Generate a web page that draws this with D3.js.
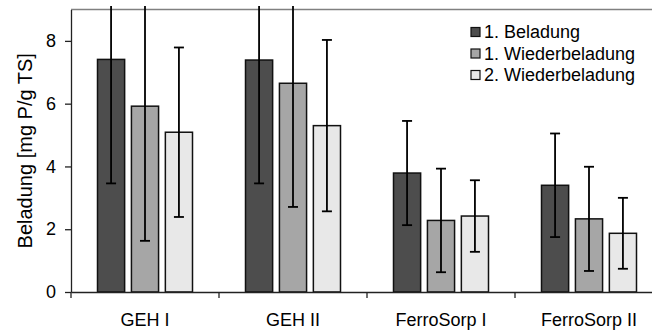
<!DOCTYPE html>
<html lang="de">
<head>
    <meta charset="UTF-8">
    <script src="https://d3js.org/d3.v7.min.js"></script>
    <title>Beladung</title>
    <style>
      body { margin: 0; background: #fff; }
      text { font-family: "Liberation Sans", Arial, sans-serif; }
    </style>
</head>
<body>
    <div id="chart"></div>

    <script>
      // data
      var categories = ["GEH I", "GEH II", "FerroSorp I", "FerroSorp II"];
      var series = ["1. Beladung", "1. Wiederbeladung", "2. Wiederbeladung"];
      var beladung1 = [7.41, 7.39, 3.79, 3.40];
      var wieder1 = [5.92, 6.65, 2.28, 2.33];
      var wieder2 = [5.09, 5.30, 2.42, 1.87];
      var err1 = [3.95, 3.93, 1.66, 1.65];
      var err2 = [4.29, 3.94, 1.65, 1.66];
      var err3 = [2.70, 2.73, 1.14, 1.13];
      var yTicks = [0, 2, 4, 6, 8];
      var colors = ["#4d4d4d", "#a6a6a6", "#e8e8e8"];

      var values = [beladung1, wieder1, wieder2];
      var errors = [err1, err2, err3];

      var W = 652, H = 334;
      var plotLeft = 71, plotTop = 9.5, plotBottom = 292;

      var rows = [];
      categories.forEach(function(c, i) {
          series.forEach(function(s, j) {
              rows.push({cat: c, ser: s, v: values[j][i], e: errors[j][i], col: colors[j]});
          });
      });

      var svg = d3.select("#chart").append("svg")
          .attr("width", W).attr("height", H);

      // categories step ~148px, the last one runs past the right edge
      var x = d3.scaleBand().domain(categories).range([plotLeft, plotLeft + 592]);
      var xs = d3.scaleBand().domain(series).range([26.5, 121.5]).paddingInner(0.2);
      var y = d3.scaleLinear().domain([0, 9]).range([plotBottom, plotTop]);

      svg.append("defs").append("clipPath").attr("id", "clip")
          .append("rect").attr("x", 0).attr("y", 6).attr("width", W).attr("height", H);

      // top frame
      svg.append("line")
          .attr("x1", plotLeft).attr("x2", W).attr("y1", y(9)).attr("y2", y(9))
          .attr("stroke", "#808080").attr("stroke-width", 1.3);

      // bars
      svg.append("g").selectAll("rect").data(rows).enter().append("rect")
          .attr("x", d => x(d.cat) + xs(d.ser))
          .attr("y", d => y(d.v))
          .attr("width", xs.bandwidth())
          .attr("height", d => y(0) - y(d.v))
          .attr("fill", d => d.col)
          .attr("stroke", "#111")
          .attr("stroke-width", 1.5);

      // error bars
      var eg = svg.append("g").attr("clip-path", "url(#clip)")
          .selectAll("g").data(rows).enter().append("g")
          .attr("stroke", "#000").attr("stroke-width", 1.8);
      eg.append("line")
          .attr("x1", d => x(d.cat) + xs(d.ser) + xs.bandwidth() / 2)
          .attr("x2", d => x(d.cat) + xs(d.ser) + xs.bandwidth() / 2)
          .attr("y1", d => y(d.v + d.e))
          .attr("y2", d => y(d.v - d.e));
      eg.append("line")
          .attr("x1", d => x(d.cat) + xs(d.ser) + xs.bandwidth() / 2 - 5)
          .attr("x2", d => x(d.cat) + xs(d.ser) + xs.bandwidth() / 2 + 5)
          .attr("y1", d => y(d.v - d.e))
          .attr("y2", d => y(d.v - d.e));
      eg.append("line")
          .attr("x1", d => x(d.cat) + xs(d.ser) + xs.bandwidth() / 2 - 5)
          .attr("x2", d => x(d.cat) + xs(d.ser) + xs.bandwidth() / 2 + 5)
          .attr("y1", d => y(d.v + d.e))
          .attr("y2", d => y(d.v + d.e));

      // y axis
      var ya = svg.append("g").attr("transform", "translate(" + plotLeft + ",0)")
          .call(d3.axisLeft(y).tickValues(yTicks).tickSize(6).tickPadding(9).tickSizeOuter(0));
      ya.select(".domain").attr("stroke", "#222").attr("stroke-width", 1.3);
      ya.selectAll(".tick line").attr("stroke", "#222").attr("stroke-width", 1.3);
      ya.selectAll("text").attr("font-size", 18).attr("fill", "#000")
          .attr("font-family", "Liberation Sans, Arial, sans-serif");

      // x axis
      var xa = svg.append("g").attr("transform", "translate(0," + plotBottom + ")")
          .call(d3.axisBottom(x).tickSize(0).tickPadding(21).tickSizeOuter(0));
      xa.select(".domain").attr("stroke", "#222").attr("stroke-width", 1.3);
      xa.selectAll("text").attr("font-size", 18).attr("fill", "#000")
          .attr("font-family", "Liberation Sans, Arial, sans-serif");
      svg.append("g").selectAll("line").data(categories).enter().append("line")
          .attr("x1", d => x(d)).attr("x2", d => x(d))
          .attr("y1", plotBottom).attr("y2", plotBottom + 6)
          .attr("stroke", "#222").attr("stroke-width", 1.3);

      // y label
      svg.append("text")
          .attr("transform", "translate(25," + ((plotTop + plotBottom) / 2) + ") rotate(-90)")
          .attr("text-anchor", "middle")
          .attr("dominant-baseline", "central")
          .attr("font-size", 20)
          .text("Beladung [mg P/g TS]");

      // legend
      var lg = svg.append("g").attr("transform", "translate(471,0)")
          .selectAll("g").data(series).enter().append("g")
          .attr("transform", (d, i) => "translate(0," + (32 + i * 21.5) + ")");
      lg.append("rect")
          .attr("x", 0).attr("y", -4.5).attr("width", 9).attr("height", 9)
          .attr("fill", (d, i) => colors[i])
          .attr("stroke", "#111").attr("stroke-width", 1.2);
      lg.append("text")
          .attr("x", 13).attr("y", 0)
          .attr("dominant-baseline", "central")
          .attr("font-size", 18)
          .text(d => d);
    </script>
</body>
</html>
